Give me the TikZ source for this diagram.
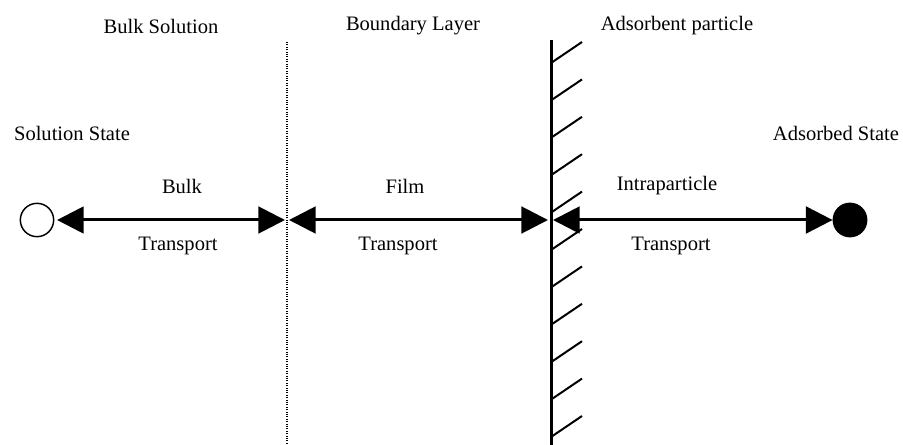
\documentclass[tikz,border=0pt]{standalone}
\usepackage{fontspec}
\setmainfont{Liberation Serif}
\usetikzlibrary{arrows.meta}
\begin{document}
\begin{tikzpicture}[x=0.75pt,y=-0.75pt,
  font=\fontsize{15.4}{18}\selectfont,
  flow/.style={{Triangle[length=20pt,width=20pt]}-{Triangle[length=20pt,width=20pt]},line width=2.25pt},
  state/.style={circle,draw,line width=1.1pt,minimum size=25pt,inner sep=0pt}]
\useasboundingbox (0,0) rectangle (903,445);

% regions
\node (bulk) at (161,26) {Bulk Solution};
\node (layer) at (413,26) {Boundary Layer};
\node (particle) at (677,26) {Adsorbent particle};

% boundary between bulk and film
\draw[densely dotted,line width=0.8pt] (287,42) -- (287,445);

% particle surface
\draw[line width=2.25pt] (551,40) -- (551,445);
\foreach \i in {0,...,10}
  \draw[line width=1.5pt] (551,63+37.4*\i) -- ++(31,-21);

% states
\node[state] (sol) at (37,220) {};
\node[state,fill] (ads) at (850,220) {};
\node (soltxt) at (72,133) {Solution State};
\node (adstxt) at (836,133) {Adsorbed State};

\coordinate (b1) at (285,220);
\coordinate (b2) at (289,220);
\coordinate (w1) at (548,220);
\coordinate (w2) at (553,220);

\draw[flow,shorten <=2pt] (sol) -- (b1);
\draw[flow] (b2) -- (w1);
\draw[flow] (w2) -- (ads);

% step labels
\node (bulkA) at (182,186) {Bulk};
\node (bulkB) at (178,246) {Transport};
\node (filmA) at (405,186) {Film};
\node (filmB) at (398,246) {Transport};
\node (intraA) at (667,186) {Intraparticle};
\node (intraB) at (671,246) {Transport};
\end{tikzpicture}
\end{document}
